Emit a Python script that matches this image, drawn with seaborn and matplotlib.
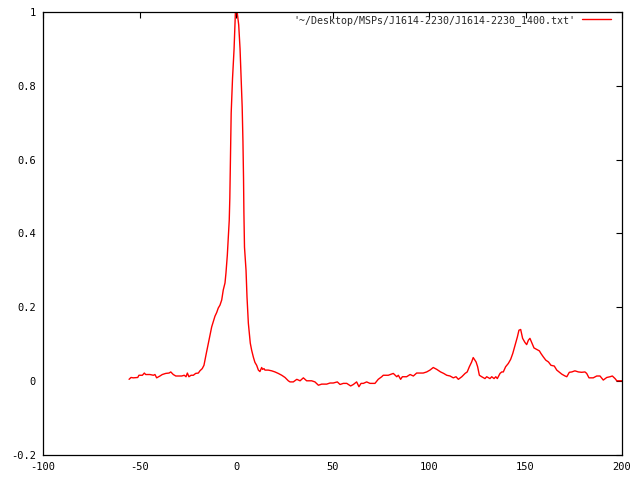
import matplotlib
matplotlib.use("Agg")
import matplotlib.pyplot as plt
from matplotlib.ticker import FuncFormatter
import seaborn as sns

# pulse profile (x in degrees, y normalised flux)
phase = [
    -55.4, -54.4, -53.2, -50.9, -50.3, -48.5, -47.5, -46.8, -44.6, -42.8,
    -42.0, -41.1, -39.4, -38.2, -36.4, -34.7, -33.8, -32.5, -31.2, -28.1,
    -26.8, -25.9, -25.2, -24.4, -23.3, -22.1, -20.9, -19.5, -18.7, -17.5,
    -16.6, -16.1, -15.4, -14.7, -14.0, -13.3, -12.6, -11.8, -10.9, -10.0,
    -9.2, -8.3, -7.4, -6.6, -5.7, -5.2, -4.5, -4.0, -3.5, -3.2,
    -2.9, -2.5, -1.8, -1.0, -0.3, 0.6, 1.4, 2.1, 2.6, 3.2,
    3.6, 3.9, 4.1, 4.4, 5.2, 5.7, 6.4, 6.9, 7.4, 8.1,
    9.0, 9.8, 10.7, 11.6, 12.4, 13.3, 13.8, 14.5, 15.0, 16.7,
    18.5, 20.2, 21.9, 23.7, 25.4, 27.1, 28.0, 29.7, 31.5, 33.2,
    34.9, 36.6, 39.2, 40.9, 42.7, 44.4, 47.0, 48.7, 50.4, 52.5,
    53.9, 55.6, 57.4, 59.4, 60.8, 62.5, 63.7, 64.8, 66.0, 67.7,
    69.4, 72.0, 73.7, 75.5, 76.3, 78.9, 81.5, 83.3, 84.1, 85.3,
    86.2, 88.4, 90.2, 91.9, 93.6, 97.0, 98.8, 100.5, 102.2, 104.0,
    106.0, 107.6, 109.2, 110.9, 112.6, 114.0, 115.2, 117.0, 118.7, 119.8,
    120.9, 122.1, 122.9, 124.4, 125.2, 126.1, 127.3, 129.0, 129.9, 131.6,
    132.5, 133.7, 134.6, 135.4, 136.8, 137.7, 138.5, 139.7, 141.1, 142.3,
    143.4, 144.6, 145.8, 146.6, 147.5, 148.5, 149.7, 150.6, 151.5, 152.3,
    153.2, 154.4, 155.8, 157.2, 158.0, 159.2, 160.5, 161.9, 163.2, 164.9,
    166.2, 167.4, 168.8, 170.5, 171.4, 172.7, 174.0, 175.6, 177.4, 179.1,
    180.8, 181.7, 182.9, 185.1, 186.9, 188.6, 190.3, 192.1, 193.8, 195.0,
    196.4, 197.3, 198.1, 200.2, 202.0,
]
flux = [
    0.005, 0.010, 0.009, 0.010, 0.016, 0.016, 0.022, 0.018, 0.018, 0.016,
    0.018, 0.009, 0.014, 0.018, 0.021, 0.022, 0.025, 0.018, 0.014, 0.014,
    0.016, 0.012, 0.022, 0.012, 0.016, 0.016, 0.021, 0.022, 0.028, 0.034,
    0.043, 0.057, 0.075, 0.093, 0.111, 0.129, 0.147, 0.161, 0.176, 0.186,
    0.198, 0.206, 0.220, 0.247, 0.266, 0.293, 0.341, 0.388, 0.436, 0.496,
    0.600, 0.726, 0.820, 0.900, 1.000, 1.000, 0.965, 0.900, 0.825, 0.743,
    0.649, 0.550, 0.455, 0.363, 0.300, 0.228, 0.157, 0.130, 0.103, 0.084,
    0.065, 0.051, 0.043, 0.030, 0.026, 0.037, 0.032, 0.034, 0.030, 0.030,
    0.028, 0.025, 0.021, 0.016, 0.010, 0.001, -0.002, -0.002, 0.005, 0.001,
    0.009, 0.001, 0.001, -0.002, -0.011, -0.008, -0.008, -0.005, -0.005, -0.002,
    -0.009, -0.006, -0.006, -0.013, -0.009, -0.002, -0.015, -0.006, -0.006, -0.002,
    -0.006, -0.006, 0.005, 0.012, 0.016, 0.016, 0.021, 0.012, 0.016, 0.005,
    0.012, 0.012, 0.018, 0.014, 0.022, 0.022, 0.025, 0.030, 0.037, 0.032,
    0.025, 0.021, 0.016, 0.014, 0.009, 0.012, 0.005, 0.012, 0.021, 0.025,
    0.039, 0.052, 0.064, 0.052, 0.039, 0.016, 0.012, 0.007, 0.012, 0.007,
    0.012, 0.007, 0.012, 0.007, 0.021, 0.025, 0.025, 0.039, 0.048, 0.059,
    0.075, 0.098, 0.120, 0.138, 0.140, 0.116, 0.105, 0.099, 0.111, 0.116,
    0.105, 0.090, 0.086, 0.082, 0.075, 0.066, 0.057, 0.052, 0.043, 0.041,
    0.030, 0.025, 0.019, 0.014, 0.012, 0.024, 0.025, 0.028, 0.025, 0.024,
    0.025, 0.021, 0.009, 0.009, 0.014, 0.014, 0.003, 0.010, 0.012, 0.014,
    0.007, 0.001, 0.001, 0.001, 0.003,
]
series_label = "'~/Desktop/MSPs/J1614-2230/J1614-2230_1400.txt'"
x_ticks = [-100, -50, 0, 50, 100, 150, 200]
y_ticks = [-0.2, 0, 0.2, 0.4, 0.6, 0.8, 1]

sns.set_style("white")
plt.rcParams['font.family'] = ['DejaVu Sans Mono']
plt.rcParams['axes.unicode_minus'] = False

fig = plt.figure(figsize=(6.4, 4.8), dpi=100)
ax = fig.add_axes([43 / 640, 1 - 455 / 480, 579 / 640, 443 / 480])

sns.lineplot(x=phase, y=flux, color='red', linewidth=1.0, estimator=None,
             sort=False, label=series_label, ax=ax)

ax.set_xlim(x_ticks[0], x_ticks[-1])
ax.set_ylim(y_ticks[0], y_ticks[-1])
ax.set_xticks(x_ticks)
ax.set_yticks(y_ticks)
ax.yaxis.set_major_formatter(FuncFormatter(lambda v, p: '%g' % round(v, 3)))
ax.tick_params(direction='in', top=True, right=True, length=4, width=0.8,
               labelsize=7.5, colors='black', pad=5)

for s in ax.spines.values():
    s.set_color('black')
    s.set_linewidth(0.9)

ax.legend(loc='upper right', bbox_to_anchor=(1 - 11 / 579, 1 - 3 / 443),
          frameon=False, markerfirst=False, fontsize=7.2, handlelength=2.9,
          handletextpad=0.7, borderpad=0, borderaxespad=0)
ax.set_xlabel('')
ax.set_ylabel('')

fig.savefig('out.png', dpi=100)
